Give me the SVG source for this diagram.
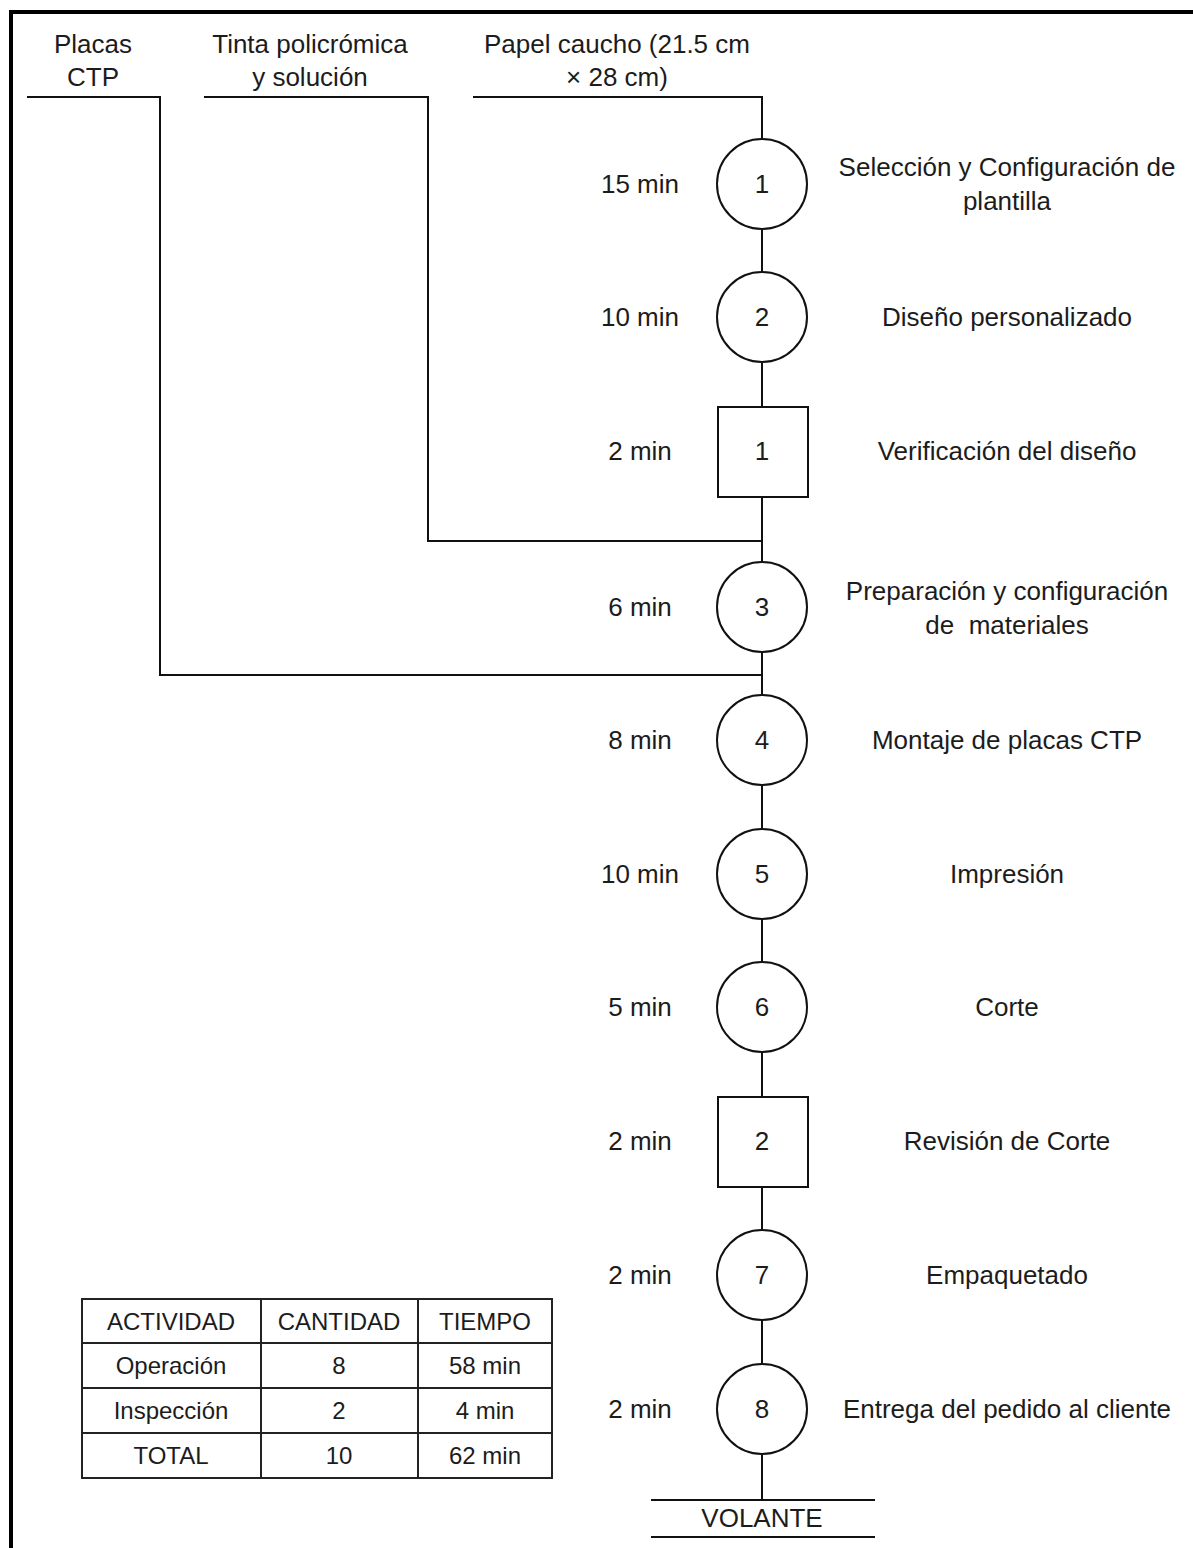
<svg xmlns="http://www.w3.org/2000/svg" width="1193" height="1548" viewBox="0 0 1193 1548">
  <style>
    text { font-family: "Liberation Sans", Arial, sans-serif; font-size: 26px; fill: #1c1c1c; text-anchor: middle; }
    .tbl { font-size: 24px; }
    .sym { fill: #fff; stroke: #111; stroke-width: 2; }
    .ln { fill: none; stroke: #111; stroke-width: 2; }
  </style>
  <rect width="1193" height="1548" fill="#fff"/>
  <!-- outer frame -->
  <path d="M11,1548 V12 H1193" fill="none" stroke="#000" stroke-width="4"/>

  <!-- connectors -->
  <g id="connectors" class="ln">
    <path d="M27,97 H160 V675 H762"/>
    <path d="M204,97 H428 V541 H762"/>
    <path d="M473,97 H762 V1500"/>
    <path d="M651,1500 H875"/>
    <path d="M651,1537 H875"/>
  </g>

  <!-- material inputs -->
  <g id="in-placas">
    <text x="93" y="53">Placas</text>
    <text x="93" y="86">CTP</text>
  </g>
  <g id="in-tinta">
    <text x="310" y="53">Tinta policrómica</text>
    <text x="310" y="86">y solución</text>
  </g>
  <g id="in-papel">
    <text x="617" y="53">Papel caucho (21.5 cm</text>
    <text x="617" y="86">× 28 cm)</text>
  </g>

  <!-- process steps -->
  <g id="op1">
    <circle class="sym" cx="762" cy="184" r="45"/>
    <text x="762" y="193">1</text>
    <text x="640" y="193">15 min</text>
    <text x="1007" y="176">Selección y Configuración de</text>
    <text x="1007" y="210">plantilla</text>
  </g>
  <g id="op2">
    <circle class="sym" cx="762" cy="317" r="45"/>
    <text x="762" y="326">2</text>
    <text x="640" y="326">10 min</text>
    <text x="1007" y="326">Diseño personalizado</text>
  </g>
  <g id="insp1">
    <rect class="sym" x="718" y="407" width="90" height="90"/>
    <text x="762" y="460">1</text>
    <text x="640" y="460">2 min</text>
    <text x="1007" y="460">Verificación del diseño</text>
  </g>
  <g id="op3">
    <circle class="sym" cx="762" cy="607" r="45"/>
    <text x="762" y="616">3</text>
    <text x="640" y="616">6 min</text>
    <text x="1007" y="600">Preparación y configuración</text>
    <text x="1007" y="634" xml:space="preserve">de  materiales</text>
  </g>
  <g id="op4">
    <circle class="sym" cx="762" cy="740" r="45"/>
    <text x="762" y="749">4</text>
    <text x="640" y="749">8 min</text>
    <text x="1007" y="749">Montaje de placas CTP</text>
  </g>
  <g id="op5">
    <circle class="sym" cx="762" cy="874" r="45"/>
    <text x="762" y="883">5</text>
    <text x="640" y="883">10 min</text>
    <text x="1007" y="883">Impresión</text>
  </g>
  <g id="op6">
    <circle class="sym" cx="762" cy="1007" r="45"/>
    <text x="762" y="1016">6</text>
    <text x="640" y="1016">5 min</text>
    <text x="1007" y="1016">Corte</text>
  </g>
  <g id="insp2">
    <rect class="sym" x="718" y="1097" width="90" height="90"/>
    <text x="762" y="1150">2</text>
    <text x="640" y="1150">2 min</text>
    <text x="1007" y="1150">Revisión de Corte</text>
  </g>
  <g id="op7">
    <circle class="sym" cx="762" cy="1275" r="45"/>
    <text x="762" y="1284">7</text>
    <text x="640" y="1284">2 min</text>
    <text x="1007" y="1284">Empaquetado</text>
  </g>
  <g id="op8">
    <circle class="sym" cx="762" cy="1409" r="45"/>
    <text x="762" y="1418">8</text>
    <text x="640" y="1418">2 min</text>
    <text x="1007" y="1418">Entrega del pedido al cliente</text>
  </g>
  <g id="out-volante">
    <text x="762" y="1527">VOLANTE</text>
  </g>

  <!-- summary table -->
  <g id="summary">
    <rect x="82" y="1299" width="470" height="179" fill="#fff" stroke="#222" stroke-width="2"/>
    <path d="M261,1299 V1478 M418,1299 V1478 M82,1343 H552 M82,1388 H552 M82,1433 H552" fill="none" stroke="#222" stroke-width="2"/>
    <text class="tbl" x="171" y="1330">ACTIVIDAD</text>
    <text class="tbl" x="339" y="1330">CANTIDAD</text>
    <text class="tbl" x="485" y="1330">TIEMPO</text>
    <text class="tbl" x="171" y="1374">Operación</text>
    <text class="tbl" x="339" y="1374">8</text>
    <text class="tbl" x="485" y="1374">58 min</text>
    <text class="tbl" x="171" y="1419">Inspección</text>
    <text class="tbl" x="339" y="1419">2</text>
    <text class="tbl" x="485" y="1419">4 min</text>
    <text class="tbl" x="171" y="1464">TOTAL</text>
    <text class="tbl" x="339" y="1464">10</text>
    <text class="tbl" x="485" y="1464">62 min</text>
  </g>
</svg>
